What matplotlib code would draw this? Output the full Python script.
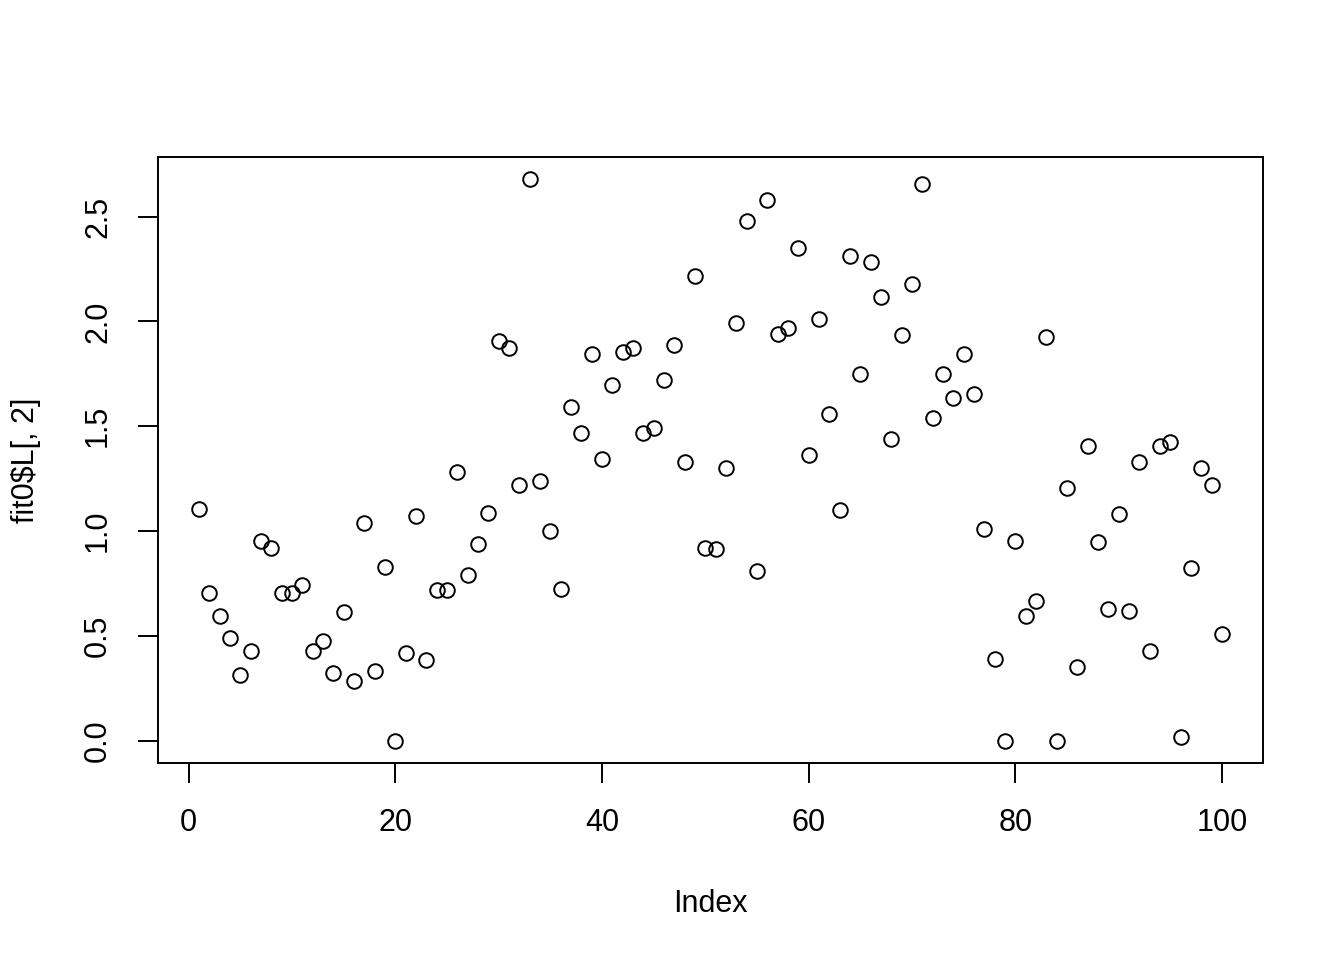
import numpy as np
from matplotlib import pyplot as plt

plt.rcParams['font.family'] = ['Liberation Sans', 'DejaVu Sans']

index = np.arange(1, 101)
fit_L2 = [1.107, 0.706, 0.592, 0.487, 0.315, 0.429, 0.954, 0.921, 0.706, 0.706,
          0.740, 0.425, 0.477, 0.320, 0.611, 0.286, 1.040, 0.334, 0.830, 0.000,
          0.420, 1.069, 0.386, 0.716, 0.716, 1.283, 0.792, 0.940, 1.088, 1.908,
          1.875, 1.221, 2.677, 1.240, 1.002, 0.725, 1.589, 1.469, 1.842, 1.345,
          1.698, 1.856, 1.875, 1.465, 1.493, 1.722, 1.885, 1.331, 2.214, 0.921,
          0.916, 1.298, 1.994, 2.481, 0.811, 2.581, 1.942, 1.966, 2.352, 1.360,
          2.009, 1.560, 1.102, 2.314, 1.751, 2.281, 2.118, 1.441, 1.937, 2.176,
          2.657, 1.541, 1.751, 1.632, 1.846, 1.651, 1.011, 0.391, 0.000, 0.954,
          0.596, 0.668, 1.923, 0.000, 1.207, 0.353, 1.403, 0.949, 0.630, 1.083,
          0.620, 1.331, 0.429, 1.403, 1.422, 0.019, 0.825, 1.302, 1.221, 0.506]

fig = plt.figure(figsize=(13.44, 9.6), dpi=100)
ax = fig.add_axes([158/1344, 1 - 763/960, (1263-158)/1344, (763-157)/960])

ax.plot(index, fit_L2, 'o', mfc='none', mec='black', ms=10.5, mew=1.4)

# R style 4% extension
xr = index.max() - index.min()
ax.set_xlim(index.min() - 0.04*xr, index.max() + 0.04*xr)
yr = max(fit_L2) - min(fit_L2)
ax.set_ylim(min(fit_L2) - 0.04*yr, max(fit_L2) + 0.04*yr)

ax.set_xticks([0, 20, 40, 60, 80, 100])
ax.set_yticks([0.0, 0.5, 1.0, 1.5, 2.0, 2.5])
ax.set_yticklabels(['0.0', '0.5', '1.0', '1.5', '2.0', '2.5'], rotation=90, va='center')
ax.tick_params(length=14.4, width=1.4, labelsize=22, pad=18)
for s in ax.spines.values():
    s.set_linewidth(1.4)

ax.set_xlabel('Index', fontsize=22, labelpad=37)
ax.set_ylabel(r'fit0\$L[, 2]', fontsize=22, labelpad=30)

plt.savefig('out.png', dpi=100)
